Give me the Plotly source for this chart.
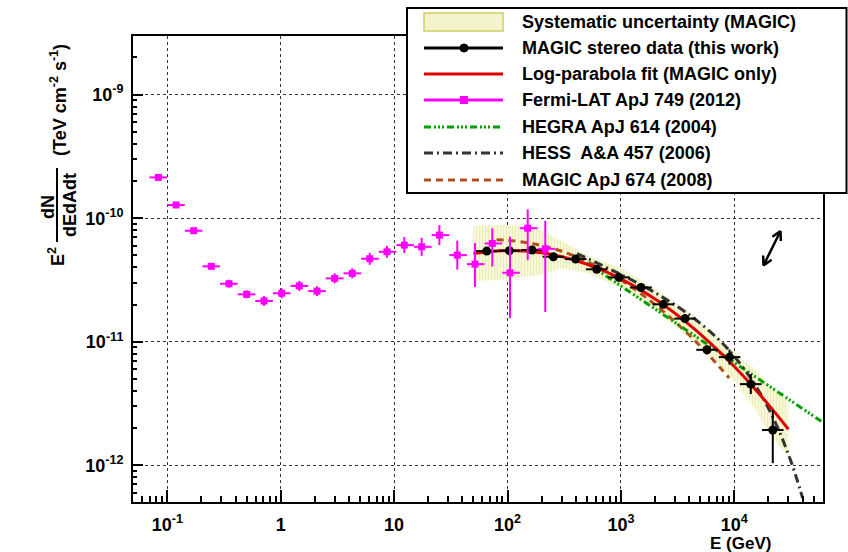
import math
import plotly.graph_objects as go

# ---------------- data ----------------
# Fermi-LAT ApJ 749 (2012): energy (GeV), E^2 dN/dE (TeV cm^-2 s^-1)
fermi_E = [0.0834, 0.1194, 0.171, 0.2443, 0.350, 0.501, 0.713, 1.021, 1.459, 2.089,
           2.992, 4.276, 6.095, 8.65, 12.30, 17.50, 25.06, 36.06, 51.64, 73.45,
           105.2, 150.7, 215.3]
fermi_F = [2.14e-10, 1.28e-10, 7.92e-11, 4.08e-11, 2.95e-11, 2.42e-11, 2.14e-11, 2.47e-11,
           2.83e-11, 2.57e-11, 3.26e-11, 3.58e-11, 4.70e-11, 5.35e-11, 6.06e-11, 5.87e-11,
           7.30e-11, 5.03e-11, 4.25e-11, 6.25e-11, 3.62e-11, 8.30e-11, 5.65e-11]
fermi_F_hi = [2.26e-10, 1.35e-10, 8.37e-11, 4.31e-11, 3.18e-11, 2.61e-11, 2.35e-11, 2.71e-11,
              3.11e-11, 2.82e-11, 3.58e-11, 3.93e-11, 5.26e-11, 5.98e-11, 7.04e-11, 6.94e-11,
              8.80e-11, 6.59e-11, 6.29e-11, 8.27e-11, 7.08e-11, 1.18e-10, 9.52e-11]
fermi_F_lo = [2.02e-10, 1.21e-10, 7.49e-11, 3.86e-11, 2.74e-11, 2.25e-11, 1.95e-11, 2.25e-11,
              2.58e-11, 2.34e-11, 2.97e-11, 3.26e-11, 4.20e-11, 4.78e-11, 5.22e-11, 4.96e-11,
              6.06e-11, 3.84e-11, 2.77e-11, 4.07e-11, 1.56e-11, 4.57e-11, 1.74e-11]
fermi_bin_edges = [0.0697, 0.0997, 0.1426, 0.2040, 0.2917, 0.4173, 0.5970, 0.8540, 1.222,
                   1.748, 2.500, 3.577, 5.117, 7.319, 10.47, 14.98, 21.43, 30.66, 43.85,
                   62.73, 89.74, 128.4, 183.7, 262.7]

# MAGIC stereo data (this work)
magic_E = [65.6, 103.8, 164.4, 253.5, 399, 612, 962, 1503, 2364, 3673, 5745, 9073, 13970, 21830]
magic_F = [5.42e-11, 5.46e-11, 5.53e-11, 4.88e-11, 4.67e-11, 3.86e-11, 3.32e-11, 2.75e-11,
           2.01e-11, 1.54e-11, 8.61e-12, 7.51e-12, 4.54e-12, 1.93e-12]
magic_F_hi = [5.73e-11, 5.77e-11, 5.85e-11, 5.16e-11, 4.94e-11, 4.08e-11, 3.51e-11, 2.91e-11,
              2.13e-11, 1.63e-11, 9.27e-12, 8.64e-12, 5.47e-12, 2.80e-12]
magic_F_lo = [5.13e-11, 5.16e-11, 5.23e-11, 4.61e-11, 4.42e-11, 3.65e-11, 3.14e-11, 2.60e-11,
              1.90e-11, 1.46e-11, 7.99e-12, 6.53e-12, 3.77e-12, 1.04e-12]
magic_E_lo = [52.7, 83.4, 132.1, 203.7, 320.6, 491.7, 773, 1208, 1899, 2951, 4616, 7290, 11225, 17540]
magic_E_hi = [81.7, 129.2, 204.7, 315.6, 496.8, 761.9, 1198, 1871, 2943, 4573, 7153, 11296, 17393, 27178]

# systematic uncertainty band of the MAGIC spectrum
band_E = [50, 80, 120, 200, 300, 500, 1000, 2000, 4000, 7000, 10000, 15000, 20000, 30000]
band_hi = [8.73e-11, 8.81e-11, 8.81e-11, 8.03e-11, 6.54e-11, 5.04e-11, 3.95e-11, 2.67e-11,
           1.74e-11, 1.11e-11, 8.25e-12, 6.07e-12, 4.54e-12, 3.31e-12]
band_lo = [3.10e-11, 3.16e-11, 3.28e-11, 3.47e-11, 3.95e-11, 3.60e-11, 2.72e-11, 1.84e-11,
           1.07e-11, 6.85e-12, 4.81e-12, 2.90e-12, 1.86e-12, 1.165e-12]

# log-parabola fit (MAGIC only)
fit_E = [50, 100, 200, 400, 700, 1000, 2000, 4000, 7000, 10000, 15000, 20000, 30000]
fit_F = [5.18e-11, 5.49e-11, 5.25e-11, 4.55e-11, 3.77e-11, 3.23e-11, 2.22e-11, 1.378e-11,
         8.72e-12, 6.30e-12, 4.21e-12, 3.10e-12, 1.96e-12]

# HEGRA ApJ 614 (2004)
hegra_E = [500, 60000]
hegra_F = [4.35e-11, 2.235e-12]

# HESS A&A 457 (2006)
hess_E = [410, 700, 1000, 2000, 4000, 7000, 10000, 15000, 20000, 25000, 30000, 35000, 40000]
hess_F = [5.17e-11, 4.11e-11, 3.505e-11, 2.494e-11, 1.654e-11, 1.079e-11, 7.61e-12, 4.58e-12,
          2.89e-12, 1.866e-12, 1.224e-12, 8.13e-13, 5.44e-13]

# MAGIC ApJ 674 (2008)
m08_E = [80, 100, 150, 200, 300, 500, 1000, 2000, 4000, 6000, 9000]
m08_F = [6.68e-11, 6.62e-11, 6.34e-11, 6.01e-11, 5.40e-11, 4.48e-11, 3.16e-11, 2.00e-11,
         1.134e-11, 7.74e-12, 5.09e-12]

x_ticks = [0.1, 1, 10, 100, 1000, 10000]
x_ticktext = ["10<sup>-1</sup>", "1", "10", "10<sup>2</sup>", "10<sup>3</sup>", "10<sup>4</sup>"]
y_ticks = [1e-12, 1e-11, 1e-10, 1e-9]
y_ticktext = ["10<sup>-12</sup>", "10<sup>-11</sup>", "10<sup>-10</sup>", "10<sup>-9</sup>"]

legend_labels = ["Systematic uncertainty (MAGIC)", "MAGIC stereo data (this work)",
                 "Log-parabola fit (MAGIC only)", "Fermi-LAT ApJ 749 (2012)",
                 "HEGRA ApJ 614 (2004)", "HESS  A&A 457 (2006)", "MAGIC ApJ 674 (2008)"]

# ---------------- layout helpers ----------------
W, H = 848, 552
ML, MR, MT, MB = 133, 25, 36, 50
PW, PH = W - ML - MR, H - MT - MB
FONT = "Liberation Sans, Arial, Helvetica, sans-serif"

def px(x):
    return (x - ML) / PW

def py(y):
    return (H - MB - y) / PH

RED = "#e00000"
GREEN = "#00a000"
HESSC = "#333333"
BROWN = "#b0501e"
MAG = "#ff00ff"
DASH_HEGRA = "7px,3px,2px,2px,2px,2px,2px,3px"
DASH_HESS = "9px,4px,2px,4px"
DASH_M08 = "7px,5px"

fig = go.Figure()

# systematic band
fig.add_trace(go.Scatter(
    x=band_E + band_E[::-1], y=band_hi + band_lo[::-1], mode="lines", fill="toself",
    fillcolor="#fafae0",
    fillpattern=dict(shape="|", size=3, solidity=0.45, fgcolor="#dede8e", bgcolor="#fafae0"),
    line=dict(width=0), hoverinfo="skip", showlegend=False))

# reference spectra
fig.add_trace(go.Scatter(x=m08_E, y=m08_F, mode="lines", line_shape="spline",
                         line=dict(color=BROWN, width=3, dash=DASH_M08), showlegend=False))
fig.add_trace(go.Scatter(x=hegra_E, y=hegra_F, mode="lines",
                         line=dict(color=GREEN, width=3, dash=DASH_HEGRA), showlegend=False))
fig.add_trace(go.Scatter(x=hess_E, y=hess_F, mode="lines", line_shape="spline",
                         line=dict(color=HESSC, width=3, dash=DASH_HESS), showlegend=False))

# log-parabola fit
fig.add_trace(go.Scatter(x=fit_E, y=fit_F, mode="lines", line_shape="spline",
                         line=dict(color=RED, width=3), showlegend=False))

# MAGIC stereo points
fig.add_trace(go.Scatter(
    x=magic_E, y=magic_F, mode="markers",
    marker=dict(symbol="circle", size=9, color="black"),
    error_x=dict(type="data", symmetric=False,
                 array=[h - e for h, e in zip(magic_E_hi, magic_E)],
                 arrayminus=[e - l for e, l in zip(magic_E, magic_E_lo)],
                 color="black", thickness=2, width=0),
    error_y=dict(type="data", symmetric=False,
                 array=[h - f for h, f in zip(magic_F_hi, magic_F)],
                 arrayminus=[f - l for f, l in zip(magic_F, magic_F_lo)],
                 color="black", thickness=2, width=0),
    showlegend=False))

# Fermi-LAT points
fig.add_trace(go.Scatter(
    x=fermi_E, y=fermi_F, mode="markers",
    marker=dict(symbol="square", size=7, color=MAG),
    error_x=dict(type="data", symmetric=False,
                 array=[fermi_bin_edges[i + 1] - e for i, e in enumerate(fermi_E)],
                 arrayminus=[e - fermi_bin_edges[i] for i, e in enumerate(fermi_E)],
                 color=MAG, thickness=2, width=0),
    error_y=dict(type="data", symmetric=False,
                 array=[h - f for h, f in zip(fermi_F_hi, fermi_F)],
                 arrayminus=[f - l for f, l in zip(fermi_F, fermi_F_lo)],
                 color=MAG, thickness=2, width=0),
    showlegend=False))

shapes = []
annotations = []

def label(x, y, text, angle=0, xanchor="center", size=18):
    annotations.append(dict(xref="paper", yref="paper", x=px(x), y=py(y), text=text,
                            textangle=angle, showarrow=False, xanchor=xanchor,
                            yanchor="middle",
                            font=dict(family=FONT, size=size, color="black", weight="bold")))

# legend box
shapes.append(dict(type="rect", xref="paper", yref="paper", x0=px(407), x1=px(846.5),
                   y0=py(193), y1=py(8), line=dict(color="black", width=2),
                   fillcolor="white", layer="above"))
rows = [22, 48, 74, 100, 127, 153, 180]
sx0, sx1, sxm = 424, 503, 464
shapes.append(dict(type="rect", xref="paper", yref="paper", x0=px(sx0), x1=px(sx1),
                   y0=py(rows[0] + 9), y1=py(rows[0] - 9),
                   line=dict(color="#d0d060", width=1.5), fillcolor="#f4f4cc", layer="above"))
line_styles = [("black", "solid"), (RED, "solid"), (MAG, "solid"),
               (GREEN, DASH_HEGRA), (HESSC, DASH_HESS), (BROWN, DASH_M08)]
for r, (c, d) in zip(rows[1:], line_styles):
    shapes.append(dict(type="line", xref="paper", yref="paper", x0=px(sx0), x1=px(sx1),
                       y0=py(r), y1=py(r), line=dict(color=c, width=3, dash=d), layer="above"))
shapes.append(dict(type="circle", xref="paper", yref="paper", x0=px(sxm - 4), x1=px(sxm + 4),
                   y0=py(rows[1] + 4), y1=py(rows[1] - 4), fillcolor="black",
                   line=dict(color="black", width=1), layer="above"))
shapes.append(dict(type="rect", xref="paper", yref="paper", x0=px(sxm - 3.5), x1=px(sxm + 3.5),
                   y0=py(rows[3] + 3.5), y1=py(rows[3] - 3.5), fillcolor=MAG,
                   line=dict(color=MAG, width=1), layer="above"))
for r, lab in zip(rows, legend_labels):
    label(520, r, lab, xanchor="left")

# energy-scale double arrow
p1, p2 = (763.5, 265.5), (780.5, 231.0)

def arrow_head(tip, tail, length=10, ang=28):
    dx, dy = tail[0] - tip[0], tail[1] - tip[1]
    n = math.hypot(dx, dy)
    ux, uy = dx / n, dy / n
    pts = []
    for s in (1, -1):
        a = math.radians(ang) * s
        vx = ux * math.cos(a) - uy * math.sin(a)
        vy = ux * math.sin(a) + uy * math.cos(a)
        pts.append((tip[0] + length * vx, tip[1] + length * vy))
    return pts

segs = [(p1, p2)]
for tip, tail in ((p2, p1), (p1, p2)):
    for q in arrow_head(tip, tail):
        segs.append((tip, q))
for a, b in segs:
    shapes.append(dict(type="line", xref="paper", yref="paper", x0=px(a[0]), y0=py(a[1]),
                       x1=px(b[0]), y1=py(b[1]), line=dict(color="black", width=2.5)))

# y-axis title: E^2 dN/dEdAdt (TeV cm^-2 s^-1)
label(56, 257, "E<sup>2</sup>", angle=-90)
label(48, 207, "dN", angle=-90)
label(70, 205, "dEdAdt", angle=-90)
shapes.append(dict(type="line", xref="paper", yref="paper", x0=px(57), x1=px(57),
                   y0=py(242), y1=py(168), line=dict(color="black", width=2)))
label(58, 100, "(TeV cm<sup>-2</sup> s<sup>-1</sup>)", angle=-90)
# x-axis title
label(740, 543, "E (GeV)", size=17)

tick_font = dict(family=FONT, size=18, color="black", weight="bold")
x_minor = [m * 10.0 ** k for k in range(-2, 5) for m in range(2, 10)]
y_minor = [m * 10.0 ** k for k in range(-13, -8) for m in range(2, 10)]

fig.update_layout(
    width=W, height=H, margin=dict(l=ML, r=MR, t=MT, b=MB, pad=0),
    paper_bgcolor="white", plot_bgcolor="white", showlegend=False,
    shapes=shapes, annotations=annotations,
    xaxis=dict(type="log", range=[-1.3025, 4.782], tickmode="array", tickvals=x_ticks,
               ticktext=x_ticktext, ticks="inside", ticklen=12, tickwidth=1.5,
               tickcolor="black", tickfont=tick_font, showline=True, linecolor="black",
               linewidth=2, mirror=True, showgrid=True, gridcolor="#333333", gridwidth=1,
               griddash="dot", zeroline=False, ticklabelstandoff=5,
               minor=dict(tickmode="array", tickvals=x_minor, ticks="inside", ticklen=6,
                          tickwidth=1.5, tickcolor="black", showgrid=False)),
    yaxis=dict(type="log", range=[-12.297, -8.525], tickmode="array", tickvals=y_ticks,
               ticktext=y_ticktext, ticks="inside", ticklen=10, tickwidth=1.5,
               tickcolor="black", tickfont=tick_font, showline=True, linecolor="black",
               linewidth=2, mirror=True, showgrid=True, gridcolor="#333333", gridwidth=1,
               griddash="dot", zeroline=False, ticklabelstandoff=4,
               minor=dict(tickmode="array", tickvals=y_minor, ticks="inside", ticklen=4,
                          tickwidth=1.5, tickcolor="black", showgrid=False)),
)

fig.write_html("out.html")
